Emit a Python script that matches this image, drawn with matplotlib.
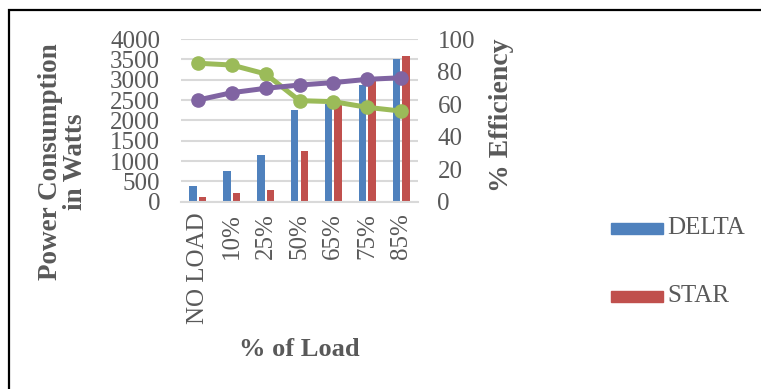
import matplotlib
matplotlib.use("Agg")
import matplotlib.pyplot as plt
import numpy as np
from matplotlib.patches import Rectangle

plt.rcParams['font.family'] = ['Liberation Serif', 'DejaVu Serif']

# Load levels and measurements
load_levels = ["NO LOAD", "10%", "25%", "50%", "65%", "75%", "85%"]
delta_power = [390, 760, 1140, 2260, 2390, 2860, 3500]
star_power = [120, 210, 290, 1250, 2380, 2990, 3570]
delta_efficiency = [62.5, 67.0, 69.7, 71.7, 73.2, 75.2, 76.2]
star_efficiency = [85.1, 84.0, 78.5, 62.1, 61.5, 58.0, 55.7]

power_ticks = list(range(0, 4001, 500))
eff_ticks = list(range(0, 101, 20))

BLUE = "#4F81BD"
RED = "#C0504D"
GREEN = "#9BBB59"
PURPLE = "#8064A2"
TEXT = "#595959"
GRID = "#D9D9D9"

W, H = 761, 389
fig = plt.figure(figsize=(W / 100, H / 100), dpi=100)

# frame around the chart
fig.patches.append(Rectangle((9 / W, -0.05), 1.2, (H - 10) / H + 0.05,
                             transform=fig.transFigure, fill=False,
                             edgecolor="black", linewidth=1.6))

ax = fig.add_axes([181 / W, (H - 201.7) / H, 237 / W, 162.7 / H])
x = np.arange(len(load_levels))
bw = 0.22
ax.bar(x - 0.14, delta_power, bw, color=BLUE, zorder=2, label="DELTA")
ax.bar(x + 0.14, star_power, bw, color=RED, zorder=2, label="STAR")
ax.set_xlim(-0.5, len(load_levels) - 0.5)
ax.set_ylim(0, 4000)
ax.set_yticks(power_ticks)
ax.set_yticklabels([str(t) for t in power_ticks], fontsize=18, color=TEXT)
ax.set_xticks(x)
ax.set_xticklabels(load_levels, rotation=90, fontsize=18, color=TEXT)
ax.tick_params(axis="both", length=0)
ax.tick_params(axis="y", pad=15)
ax.tick_params(axis="x", pad=8)
ax.yaxis.grid(True, color=GRID, linewidth=1.5, zorder=0)
ax.set_axisbelow(True)
for s in ["top", "right", "left"]:
    ax.spines[s].set_visible(False)
ax.spines["bottom"].set_color(GRID)
ax.spines["bottom"].set_linewidth(1.5)

ax2 = ax.twinx()
ax2.plot(x, star_efficiency, color=GREEN, linewidth=3.6, marker="o",
         markersize=9.5, zorder=3)
ax2.plot(x, delta_efficiency, color=PURPLE, linewidth=3.6, marker="o",
         markersize=9.5, zorder=3)
ax2.set_ylim(0, 100)
ax2.set_yticks(eff_ticks)
ax2.set_yticklabels([str(t) for t in eff_ticks], fontsize=18, color=TEXT)
ax2.tick_params(axis="y", length=0, pad=14)
for s in ax2.spines.values():
    s.set_visible(False)

fig.text(63 / W, 1 - 162 / H, "Power Consumption\nin Watts", rotation=90,
         ha="center", va="center", fontsize=19.5, fontweight="bold",
         color=TEXT, linespacing=0.95)
fig.text(501 / W, 1 - 115 / H, "% Efficiency", rotation=90, ha="center",
         va="center", fontsize=20, fontweight="bold", color=TEXT)
fig.text(299 / W, 1 - 350 / H, "% of Load", ha="center", va="center",
         fontsize=19, fontweight="bold", color=TEXT)

# legend for the bar series
for y_c, col, name in [(228, BLUE, "DELTA"), (296, RED, "STAR")]:
    fig.patches.append(Rectangle((611 / W, 1 - (y_c + 5.5) / H), 52 / W,
                                 11 / H, transform=fig.transFigure,
                                 color=col))
    fig.text(667 / W, 1 - y_c / H, name, ha="left", va="center",
             fontsize=18, color=TEXT)

fig.savefig("out.png", dpi=100)
